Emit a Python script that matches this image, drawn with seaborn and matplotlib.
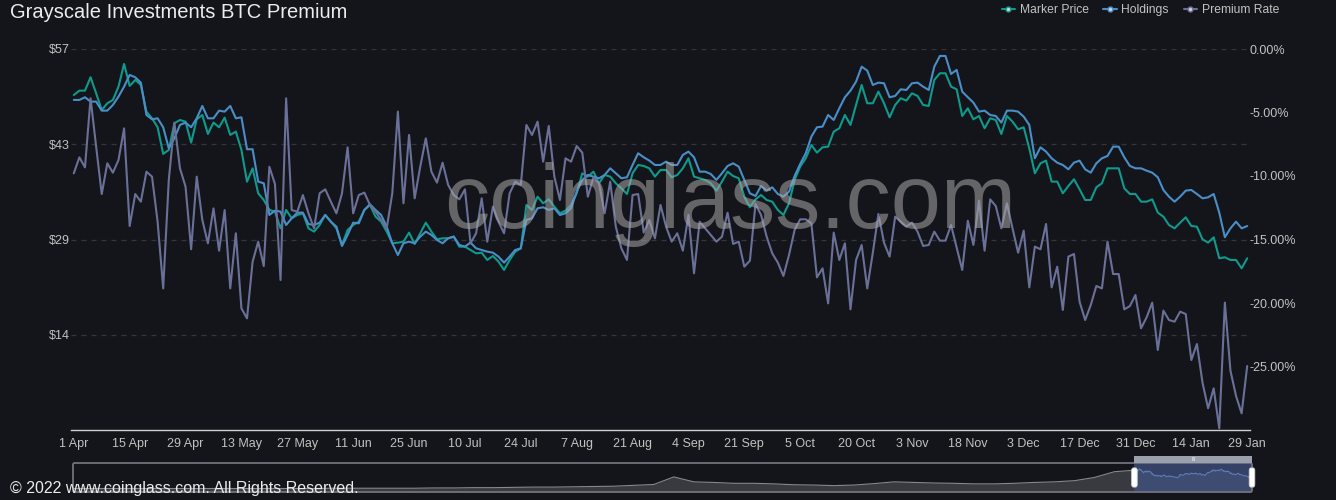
import numpy as np
import pandas as pd
import matplotlib
matplotlib.use("Agg")
import matplotlib.pyplot as plt
import seaborn as sns
from matplotlib.lines import Line2D
from matplotlib.patches import FancyBboxPatch, Rectangle

# ---------------- data ----------------
date_labels = ['1 Apr', '15 Apr', '29 Apr', '13 May', '27 May', '11 Jun', '25 Jun',
               '10 Jul', '24 Jul', '7 Aug', '21 Aug', '4 Sep', '21 Sep', '5 Oct',
               '20 Oct', '3 Nov', '18 Nov', '3 Dec', '17 Dec', '31 Dec', '14 Jan', '29 Jan']

marker_price = [
    50.12, 50.77, 50.77, 52.77, 50.37, 47.88, 48.88, 49.38, 51.37, 54.76, 51.47, 52.37, 51.62,
    47.63, 46.63, 45.29, 41.30, 41.90, 45.89, 46.38, 46.13, 42.99, 46.48, 47.13, 44.29, 45.99,
    45.29, 46.73, 44.14, 44.64, 41.90, 37.16, 39.15, 35.41, 34.41, 32.92, 32.67, 30.17, 32.92,
    31.67, 32.17, 32.42, 30.17, 29.68, 30.67, 32.17, 31.17, 30.17, 27.68, 29.93,
    30.67, 31.17, 32.92, 33.67, 31.92, 31.17, 29.68, 27.93, 28.03, 28.18, 29.53, 27.83, 29.43,
    31.02, 29.68, 28.53, 28.68, 28.68, 28.93, 27.43, 27.43, 26.93, 26.43, 26.53, 25.44, 26.03,
    25.19, 23.94, 25.44, 26.68, 27.18, 33.67, 32.92, 34.91, 33.92, 34.51, 33.42, 32.42, 32.82,
    33.67, 35.41, 38.40, 37.91, 38.65, 36.91, 38.15, 37.91, 36.91, 36.16, 35.31, 38.40, 39.65,
    39.50, 39.15, 37.91, 38.90, 38.90, 37.81, 38.15, 39.15, 40.65, 37.91, 37.66, 37.41, 36.91,
    35.81, 37.16, 38.65, 38.00, 37.66, 34.91, 33.32, 34.51, 35.16, 34.41, 34.16, 32.92, 32.17,
    33.92, 37.41, 39.40, 40.65, 42.64, 41.50, 42.29, 42.39, 44.64, 45.14, 47.13, 45.64, 48.63,
    51.62, 48.88, 48.88, 50.62, 48.88, 46.78, 48.63, 49.63, 49.28, 50.37, 49.98, 48.63, 48.48,
    52.37, 53.37, 53.37, 51.37, 50.97, 46.98, 48.13, 46.48, 46.98, 45.14, 46.63, 46.38, 44.29,
    46.98, 46.13, 44.99, 45.29, 42.14, 38.40, 39.90, 40.30, 37.16, 37.16, 35.41, 36.51, 37.51,
    36.01, 34.41, 34.41, 36.31, 36.91, 39.15, 39.15, 39.15, 36.16, 35.31, 35.31, 34.16, 34.16,
    34.51, 32.52, 31.92, 30.67, 30.17, 31.02, 31.82, 30.52, 30.42, 28.53, 28.03, 28.83, 25.69,
    25.84, 25.44, 25.44, 24.19, 25.69]

holdings = [
    49.38, 49.38, 49.78, 49.13, 49.13, 47.78, 47.78, 48.63, 49.88, 51.37, 53.12, 52.77, 51.97,
    47.13, 46.48, 46.63, 45.29, 42.14, 43.64, 45.64, 45.99, 45.29, 46.63, 48.48, 46.63, 46.63,
    47.78, 47.63, 48.48, 46.63, 46.78, 42.00, 42.00, 37.16, 36.91, 32.17, 32.82, 32.67, 30.67,
    31.67, 32.52, 32.52, 30.82, 30.67, 31.02, 32.17, 31.17, 30.42, 27.53, 29.18,
    31.02, 30.92, 32.92, 33.77, 32.92, 32.17, 30.42, 27.93, 26.18, 27.93, 28.18, 27.93, 28.93,
    29.68, 29.18, 28.43, 27.93, 28.68, 28.93, 27.68, 27.43, 28.03, 27.18, 26.93, 26.68, 26.53,
    25.94, 25.04, 25.94, 26.93, 27.18, 31.42, 31.67, 33.17, 33.32, 32.92, 33.17, 32.17, 32.42,
    33.17, 35.66, 37.41, 38.15, 37.91, 37.66, 38.15, 39.15, 38.40, 37.66, 37.81, 39.65, 41.40,
    40.80, 40.30, 39.65, 39.65, 40.15, 39.65, 39.65, 41.15, 41.65, 40.80, 38.65, 38.65, 38.30,
    37.41, 38.40, 39.50, 39.90, 39.40, 37.41, 35.41, 35.01, 36.51, 35.81, 36.31, 35.31, 34.91,
    35.66, 38.00, 39.80, 41.40, 43.89, 45.29, 45.39, 47.13, 46.38, 48.13, 49.78, 50.77, 52.12,
    54.36, 53.77, 51.62, 51.97, 51.87, 49.78, 49.98, 50.97, 50.87, 51.87, 51.97, 51.37, 50.87,
    54.36, 55.96, 55.96, 53.27, 53.87, 50.62, 49.78, 48.98, 47.63, 47.78, 47.13, 46.98, 45.99,
    47.78, 47.78, 47.63, 46.88, 45.64, 40.65, 42.29, 41.65, 40.65, 40.00, 39.65, 39.00, 40.00,
    40.30, 39.00, 38.50, 39.90, 40.65, 41.00, 42.39, 42.39, 40.80, 39.50, 39.15, 39.15, 38.80,
    38.50, 37.81, 35.91, 34.91, 34.16, 34.91, 35.81, 35.91, 35.31, 34.66, 34.81, 35.31, 32.52,
    28.83, 30.17, 31.17, 30.17, 30.52]

premium_rate = [
    -9.79, -8.53, -9.32, -3.88, -7.69, -11.42, -9.00, -9.74, -8.74, -6.25, -13.94, -11.42, -12.02,
    -9.66, -10.05, -13.60, -18.85, -10.31, -5.80, -9.40, -10.84, -15.77, -10.05, -13.46, -15.30,
    -12.55, -15.88, -12.68, -18.85, -14.51, -20.42, -21.21, -16.75, -15.17, -17.09, -9.27, -10.63,
    -18.19, -3.88, -12.68, -12.81, -11.50, -12.94, -14.12, -11.36, -11.05, -12.02, -12.94, -11.36,
    -7.74,
    -12.94, -11.50, -11.31, -12.28, -12.81, -13.46, -14.12, -11.36, -4.93, -12.15, -6.77, -11.76,
    -9.27, -7.03, -9.66, -10.52, -8.95, -10.71, -11.50, -11.84, -11.05, -15.30, -14.51, -11.76,
    -15.17, -12.41, -13.60, -14.51, -11.36, -10.45, -10.71, -5.98, -6.77, -5.72, -8.87, -6.06,
    -10.05, -11.89, -8.61, -8.87, -7.64, -8.16, -11.63, -10.10, -10.58, -12.94, -10.45, -13.99,
    -15.70, -16.61, -11.50, -11.42,
    -14.46, -13.46, -14.91, -12.28, -13.99, -15.17, -14.51, -15.88, -13.07, -17.66, -13.60, -14.12,
    -14.65, -15.17, -14.78, -12.89, -15.35, -15.17, -17.14, -16.67, -12.20, -13.07, -14.78, -16.09,
    -16.82, -17.87, -16.22, -14.25, -13.41, -13.41, -13.73, -17.98, -17.27, -20.03, -14.46, -16.61,
    -15.30, -20.50, -16.61, -15.43, -18.85, -16.04, -12.99, -15.25, -16.35, -13.20, -13.60, -13.99,
    -13.67, -14.38, -15.51, -15.43,
    -14.38, -15.09, -15.09, -13.86, -15.62, -17.40, -13.52, -15.43, -11.94, -15.88, -11.84, -12.36,
    -14.12, -12.15, -14.12, -16.04, -14.30, -18.77, -15.56, -15.77, -13.78, -18.77, -17.14, -20.55,
    -16.35, -16.14, -19.90, -21.34, -20.16, -18.66, -18.85, -15.17, -17.72, -17.72, -20.50, -20.24,
    -19.37, -21.99, -21.13, -19.97, -23.70, -20.60, -21.34, -21.47, -20.68, -20.87, -24.49, -23.23,
    -26.27, -28.29, -26.72, -29.87, -19.97, -25.33, -27.32, -28.69, -24.96]

# coarse overview of the longer history shown in the zoom slider (before the selected window)
overview_history = [-13, -13, -13, -13, -13, -13, -13, -13, -13, -13, -13, -13, -13,
                    -12, -12, -12, -12, -12, -11, -11, -10, -10, -9, -8, -8, -7, -6, -5,
                    -2, 1, 27, 10, 8, 5, 5, 3, 0, -1, -3, -1, 4, 10, 8, 6, 5, 3, 3, 5, 8,
                    10, 14, 25, 45, 50]

left_ticks = [14.25, 28.5, 42.75, 57]
left_labels = ['$14', '$29', '$43', '$57']
right_ticks = [0, -5, -10, -15, -20, -25]

# ---------------- style ----------------
BG = '#14151a'
C_MKT = '#0e9a8c'
C_HOLD = '#4a8ec8'
C_PREM = '#6a7098'
TXT = '#c2c2c2'

sns.set_style('dark', rc={'axes.facecolor': BG, 'figure.facecolor': BG})
plt.rcParams['font.family'] = ['Liberation Sans', 'DejaVu Sans']

W, H = 1336, 500
fig = plt.figure(figsize=(W / 100, H / 100), dpi=100, facecolor=BG)
ax = fig.add_axes([71 / W, (H - 430) / H, (1250 - 71) / W, (430 - 49) / H])
ax.set_facecolor(BG)
ax2 = ax.twinx()
ax2.patch.set_visible(False)

n = len(marker_price)
df = pd.DataFrame({'idx': np.arange(n), 'Marker Price': marker_price,
                   'Holdings': holdings, 'Premium Rate': premium_rate})

sns.lineplot(data=df, x='idx', y='Marker Price', ax=ax, color=C_MKT, lw=1.5)
sns.lineplot(data=df, x='idx', y='Holdings', ax=ax, color=C_HOLD, lw=1.5)
sns.lineplot(data=df, x='idx', y='Premium Rate', ax=ax2, color=C_PREM, lw=1.5)

ax.set_xlim(-0.5, n - 0.5)
ax.set_ylim(0, 57)
ax2.set_ylim(-30, 0)

ax.set_xticks(np.arange(0, n, 10))
ax.set_xticklabels(date_labels)
ax.set_yticks(left_ticks)
ax.set_yticklabels(left_labels)
ax2.set_yticks(right_ticks)
ax2.set_yticklabels([f'{v:.2f}%' for v in right_ticks])

for a in (ax, ax2):
    a.set_xlabel('')
    a.set_ylabel('')
    a.tick_params(length=0, labelsize=9, colors=TXT)
    for s in a.spines.values():
        s.set_visible(False)
ax.tick_params(axis='x', pad=6)
ax.tick_params(axis='y', pad=1)
ax2.tick_params(axis='y', pad=0)
ax.spines['bottom'].set_visible(True)
ax.spines['bottom'].set_color('#d0d0d0')
ax.spines['bottom'].set_linewidth(1)

ax.grid(False)
ax2.grid(False)
ax.yaxis.grid(True, color='#33353d', linestyle=(0, (4, 4)), linewidth=0.9)

# title
fig.text(10 / W, 1 - 12 / H, 'Grayscale Investments BTC Premium', fontsize=14.5,
         color='#ececec', ha='left', va='center')

# legend
handles = [Line2D([0], [0], color=c, lw=1.5, marker='o', markersize=3.5,
                  markerfacecolor='#d0d0d0', markeredgecolor=c)
           for c in (C_MKT, C_HOLD, C_PREM)]
fig.legend(handles, ['Marker Price', 'Holdings', 'Premium Rate'], loc='center right',
           bbox_to_anchor=(1279 / W, 1 - 10 / H), ncol=3, frameon=False, fontsize=8.7,
           labelcolor=TXT, handlelength=1.1, handletextpad=0.4, columnspacing=1.2,
           borderpad=0, borderaxespad=0)

# watermark
fig.text(730 / W, 1 - 205 / H, 'coinglass.com', fontsize=65, color='#a8a8a8', alpha=0.55,
         ha='center', va='center', zorder=5)

# ---------------- zoom slider ----------------
axs = fig.add_axes([73 / W, (H - 492) / H, (1252 - 73) / W, 29 / H])
axs.set_facecolor('none')
axs.axis('off')
n_early = len(overview_history)
x_total = 2116
x_win0 = x_total - n
early_x = np.linspace(0, x_win0, n_early)
win_x = x_win0 + np.arange(n)
ylo, yhi = -25, 75
axs.set_xlim(0, x_total)
axs.set_ylim(ylo, yhi)
axs.fill_between(early_x, overview_history, ylo, color='#393a40', lw=0)
axs.plot(early_x, overview_history, color='#85888f', lw=0.8)
axs.add_patch(Rectangle((x_win0, ylo), n, yhi - ylo, facecolor='#39456a', edgecolor='none',
                        alpha=0.95, zorder=1))
axs.fill_between(win_x, marker_price, ylo, color='#3f4c72', lw=0, zorder=2)
axs.plot(win_x, marker_price, color='#5b7bb5', lw=0.8, zorder=3)
axs.add_patch(FancyBboxPatch((0, ylo), x_total, yhi - ylo,
                             boxstyle='round,pad=0,rounding_size=3',
                             facecolor='none', edgecolor='#70737c', lw=1.3,
                             mutation_aspect=1.9, zorder=4, clip_on=False))
# top bar above the window
axs.add_patch(Rectangle((x_win0, yhi), n, 24, facecolor='#9aa0ad', edgecolor='none',
                        clip_on=False, zorder=4))
axs.text(x_win0 + n / 2, yhi + 12, 'III', fontsize=3.5, color='white', ha='center',
         va='center', clip_on=False, zorder=5)
# handles
for hx in (x_win0, x_total):
    axs.add_patch(FancyBboxPatch((hx - 5, -8), 10, 66, boxstyle='round,pad=0,rounding_size=3',
                                 facecolor='white', edgecolor='#cfd3dc', lw=0.6,
                                 mutation_aspect=3, clip_on=False, zorder=6))

# copyright
fig.text(10 / W, 1 - 488 / H, '\u00a9 2022 www.coinglass.com. All Rights Reserved.',
         fontsize=11.5, color='#ececec', ha='left', va='center', zorder=10)

fig.savefig('out.png', dpi=100, facecolor=BG)
